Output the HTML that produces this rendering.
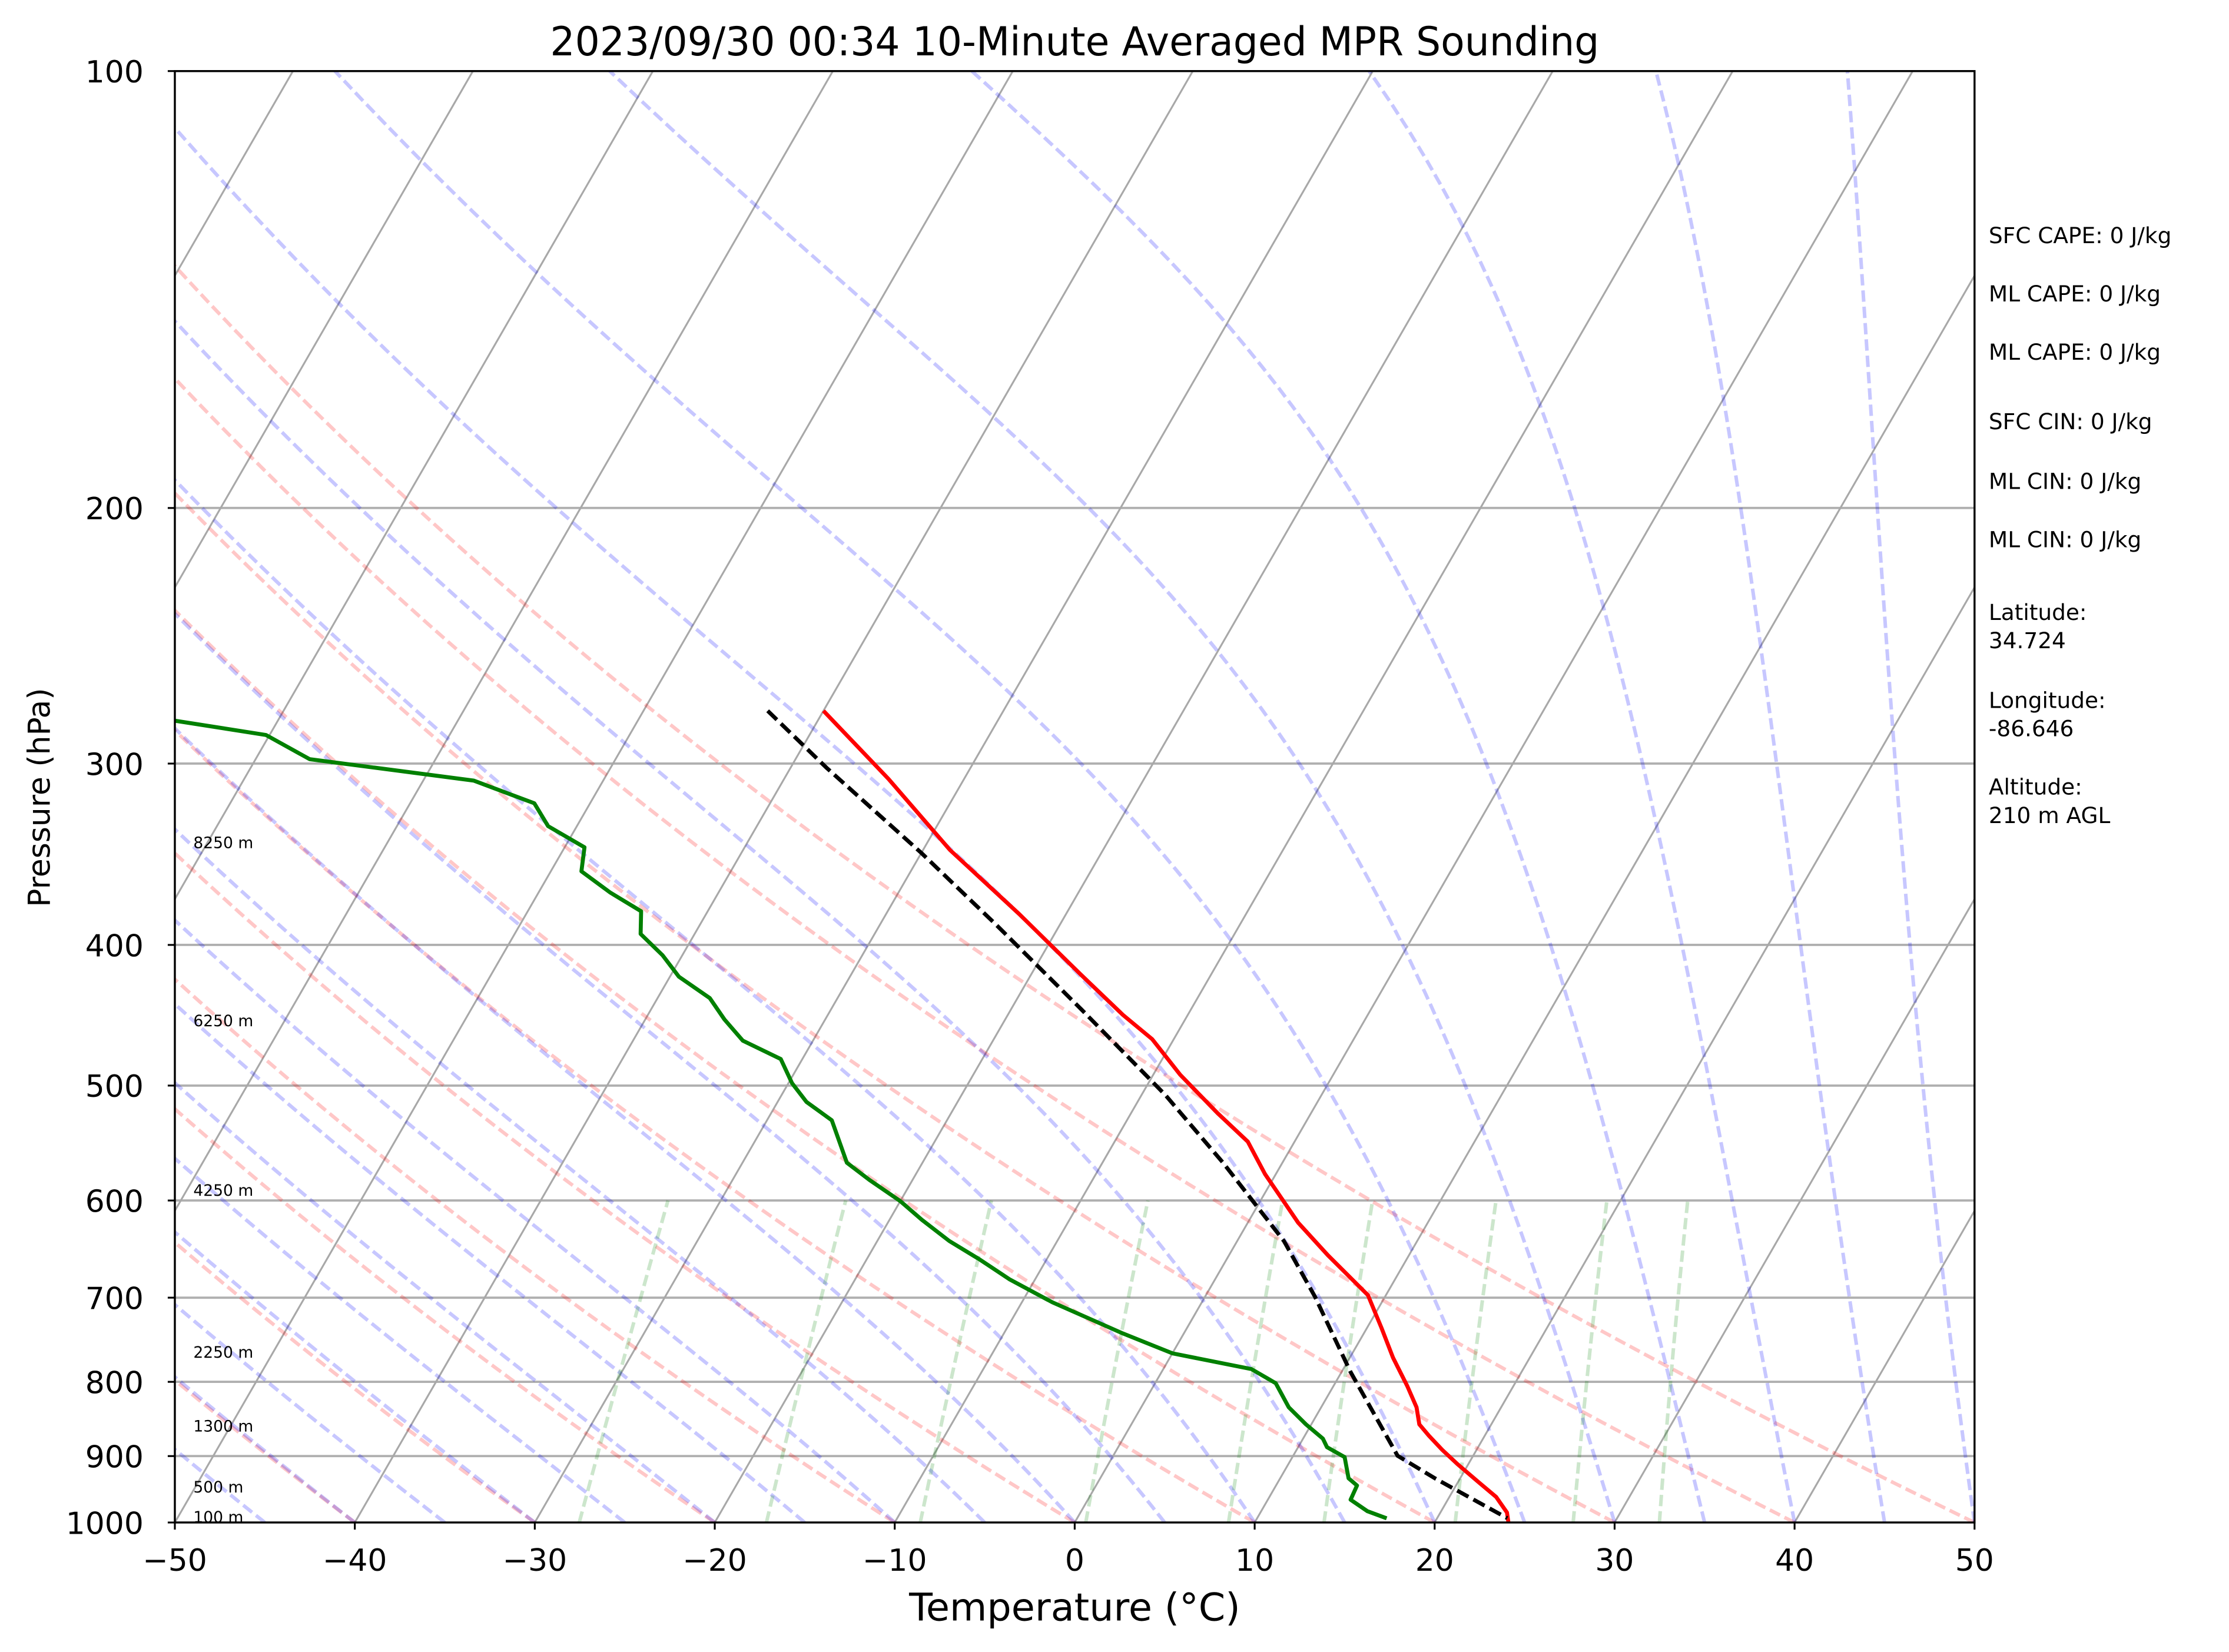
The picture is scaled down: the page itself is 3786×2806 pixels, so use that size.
<!DOCTYPE html>
<html><head><meta charset="utf-8"><title>MPR Sounding Skew-T</title>
<style>
html,body{margin:0;padding:0;background:#fff;}
svg{display:block;}
text{font-family:"DejaVu Sans","Liberation Sans",sans-serif;fill:#000;}
</style></head>
<body>
<svg id="chart" xmlns="http://www.w3.org/2000/svg" width="3786" height="2806" viewBox="0 0 1568 1162.1" preserveAspectRatio="none">
<rect x="0" y="0" width="1568" height="1162.1" fill="#fff"/>
<defs><clipPath id="plotclip"><rect x="123" y="50" width="1266" height="1021"/></clipPath></defs>
<g id="bg" clip-path="url(#plotclip)"></g>
<g id="data" clip-path="url(#plotclip)"></g>
<rect x="123" y="50" width="1266" height="1021" fill="none" stroke="#000" stroke-width="1.4"/>
<g id="axes"></g>
<text x="756" y="39" font-size="28" text-anchor="middle" textLength="738" lengthAdjust="spacingAndGlyphs">2023/09/30 00:34 10-Minute Averaged MPR Sounding</text>
<text x="756" y="1140" font-size="27" text-anchor="middle">Temperature (°C)</text>
<text x="0" y="0" font-size="21.5" text-anchor="middle" transform="translate(35,561) rotate(-90)">Pressure (hPa)</text>
<g font-size="15.5">
<text x="1399" y="171">SFC CAPE: 0 J/kg</text>
<text x="1399" y="212">ML CAPE: 0 J/kg</text>
<text x="1399" y="253">ML CAPE: 0 J/kg</text>
<text x="1399" y="302">SFC CIN: 0 J/kg</text>
<text x="1399" y="344">ML CIN: 0 J/kg</text>
<text x="1399" y="385">ML CIN: 0 J/kg</text>
<text x="1399" y="436">Latitude:</text>
<text x="1399" y="456">34.724</text>
<text x="1399" y="498">Longitude:</text>
<text x="1399" y="518">-86.646</text>
<text x="1399" y="559">Altitude:</text>
<text x="1399" y="579">210 m AGL</text>
</g>
</svg>
<script>
const xTicks = [-50,-40,-30,-20,-10,0,10,20,30,40,50];
const pTicks = [100,200,300,400,500,600,700,800,900,1000];
const heightLabels = ["8250 m","6250 m","4250 m","2250 m","1300 m","500 m","100 m"];
const heightP = [340,451,590,763,858,945,991];
const dryTheta = [-50,-40,-30,-20,-10,0,10,20,30,40,50];
const moistT0 = [-50,-45,-40,-35,-30,-25,-20,-15,-10,-5,0,5,10,15,20,25,30,35,40,45,50];
const mixRatios = [0.0004,0.001,0.002,0.004,0.007,0.01,0.016,0.024,0.032];
const tempP = [275.9,307.4,344.1,380.9,418.8,447,464.5,491.5,522.3,546.5,575.4,621.5,654.5,697.2,734.3,769.9,805.3,833,855.8,871.4,891.3,911.6,938.8,960.3,984.3,1000];
const tempT = [-40.0,-34.2,-28.5,-22.6,-17.3,-13.6,-11.2,-8.5,-5.2,-2.6,-0.6,2.8,5.5,9.0,10.8,12.4,14.1,15.3,16.0,16.9,18.1,19.4,21.2,22.6,23.7,24.1];
const dewP = [280.3,286.7,297.9,308.2,319.5,331.3,342.6,355.9,368.2,379.2,393.1,406.6,420.7,435.2,450.2,465.6,479.4,498.1,513.1,528.3,565.1,580.7,600.6,618.7,639.8,659,680.1,705.2,740.8,764.6,784,801.7,833,855.8,875.4,887.3,901.4,932.3,943,964.5,982.2,993.4];
const dewT = [-75.7,-70.2,-67.0,-57.2,-53.1,-51.6,-48.9,-48.3,-46.0,-43.7,-43.0,-41.1,-39.5,-37.1,-35.6,-33.9,-31.2,-29.8,-28.4,-26.4,-24.2,-22.4,-20.0,-18.2,-16.0,-13.7,-11.4,-8.3,-3.4,0.0,4.9,6.7,8.2,9.7,11.1,11.6,12.9,13.8,14.5,14.6,15.9,17.2];
const parcelP = [275.9,302,323.1,345.7,387,443,507.3,565.1,639.9,698.8,787.6,899.5,932.3,993.2];
const parcelT = [-43.1,-38.0,-34.0,-30.0,-23.6,-16.1,-8.7,-3.3,2.6,6.1,10.5,15.8,18.6,23.9];

const NS = "http://www.w3.org/2000/svg";
const L=123,R=1389,T=50,B=1071,H=B-T,PXC=(R-L)/100,SK=Math.tan(Math.PI/6);
function yP(p){return T+H*Math.log10(p/100);}
function xT(t,p){return L+(t+50)*PXC+SK*(B-yP(p));}
function mk(tag,attrs,parent){const e=document.createElementNS(NS,tag);for(const k in attrs)e.setAttribute(k,attrs[k]);parent.appendChild(e);return e;}
function pts(ps,ts){return ps.map((p,i)=>xT(ts[i],p).toFixed(2)+","+yP(p).toFixed(2)).join(" ");}
const bg=document.getElementById("bg"),dg=document.getElementById("data"),ax=document.getElementById("axes");

pTicks.forEach(p=>{
  const l=mk("line",{x1:L,x2:R,y1:yP(p),y2:yP(p),stroke:"#b0b0b0","stroke-width":1.6},bg);
  
  
});
for(let t=-150;t<=50;t+=10){
  const l=mk("line",{x1:xT(t,1000),y1:B,x2:xT(t,100),y2:T,stroke:"#a8a8a8","stroke-width":1.3},bg);
  
  
}
const plevs=[];for(let p=1000;p>=100;p-=5)plevs.push(p);
dryTheta.forEach(th=>{
  const ts=plevs.map(p=>(th+273.15)*Math.pow(p/1000,0.2857)-273.15);
  const l=mk("polyline",{points:pts(plevs,ts),fill:"none",stroke:"#ff0000","stroke-opacity":0.22,"stroke-width":2.5,"stroke-dasharray":"8,3.5"},bg);
  
  
});
function es(tc){return 6.112*Math.exp(17.67*tc/(tc+243.5));}
function dTdp(tk,p){const Rd=287.04,Lv=2.501e6,Cp=1005.7,eps=0.622;const e=es(tk-273.15);const rs=eps*e/(p-e);
  return (Rd*tk+Lv*rs)/(Cp+Lv*Lv*rs*eps/(Rd*tk*tk))/p;}
moistT0.forEach(t0=>{
  const ps=[1000],ts=[t0];let tk=t0+273.15,p=1000;const dp=-1;
  while(p>100){const k1=dTdp(tk,p),k2=dTdp(tk+k1*dp/2,p+dp/2),k3=dTdp(tk+k2*dp/2,p+dp/2),k4=dTdp(tk+k3*dp,p+dp);
    tk+=dp*(k1+2*k2+2*k3+k4)/6;p+=dp;if(Math.round(p)%5===0){ps.push(p);ts.push(tk-273.15);}}
  const l=mk("polyline",{points:pts(ps,ts),fill:"none",stroke:"#0000ff","stroke-opacity":0.22,"stroke-width":2.5,"stroke-dasharray":"8,3.5"},bg);
  
  
});
mixRatios.forEach(w=>{
  const ps=[],ts=[];
  for(let p=1000;p>=600;p-=10){const e=p*w/(0.622+w);const g=Math.log(e/6.112);ps.push(p);ts.push(243.5*g/(17.67-g));}
  const l=mk("polyline",{points:pts(ps,ts),fill:"none",stroke:"#008000","stroke-opacity":0.2,"stroke-width":2.5,"stroke-dasharray":"8,3.5"},bg);
  
  
});
const tl=mk("polyline",{points:pts(tempP,tempT),fill:"none",stroke:"#ff0000","stroke-width":2.8,"stroke-linejoin":"round"},dg);


const dl=mk("polyline",{points:pts(dewP,dewT),fill:"none",stroke:"#008000","stroke-width":2.8,"stroke-linejoin":"round"},dg);


const pl=mk("polyline",{points:pts(parcelP,parcelT),fill:"none",stroke:"#000","stroke-width":2.8,"stroke-dasharray":"9,4"},dg);


heightLabels.forEach((s,i)=>{
  const t=mk("text",{x:136,y:yP(heightP[i])+4,"font-size":11},dg);t.textContent=s;
  
  
});
xTicks.forEach(v=>{
  const x=L+(v+50)*PXC;
  const tk=mk("line",{x1:x,x2:x,y1:B,y2:B+5,stroke:"#000","stroke-width":1.3},ax);
  
  
  const t=mk("text",{x:x,y:1105,"font-size":21.5,"text-anchor":"middle"},ax);t.textContent=(v<0?"\u2212"+(-v):String(v));
  
  
});
pTicks.forEach(p=>{
  const y=yP(p);
  const tk=mk("line",{x1:L-5,x2:L,y1:y,y2:y,stroke:"#000","stroke-width":1.3},ax);
  
  
  const t=mk("text",{x:L-22,y:y+8,"font-size":21.5,"text-anchor":"end"},ax);t.textContent=String(p);
  
  
});
</script>
</body></html>
